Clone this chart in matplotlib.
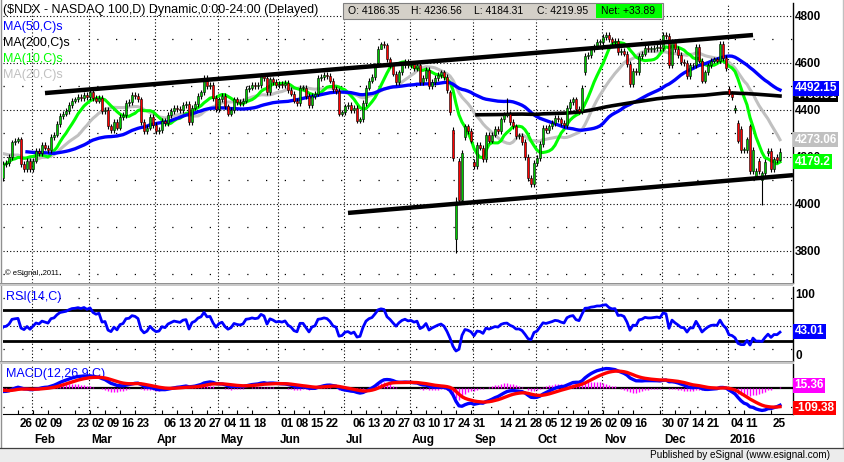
import numpy as np
import pandas as pd
import matplotlib
matplotlib.use("Agg")
import matplotlib.pyplot as plt
from matplotlib.lines import Line2D
from matplotlib.patches import Rectangle
from matplotlib.transforms import blended_transform_factory, ScaledTranslation

plt.rcParams["font.family"] = ["Liberation Sans", "DejaVu Sans"]

W, H = 845, 462

# ---------------- data: daily $NDX closes ----------------
holidays = ["2014-11-27", "2014-12-25", "2015-01-01", "2015-01-19", "2015-02-16",
            "2015-04-03", "2015-05-25", "2015-07-03", "2015-09-07", "2015-11-26",
            "2015-12-25", "2016-01-01", "2016-01-18"]

# closes before the visible window (Nov 17 2014 - Jan 16 2015), only used to warm up the indicators
close_warmup = [4210, 4240, 4225, 4245, 4255, 4290, 4295, 4320, 4330,
                4240, 4265, 4280, 4270, 4270, 4235, 4260, 4190, 4210, 4150,
                4120, 4070, 4150, 4230, 4255, 4275, 4275, 4270, 4290,
                4285, 4260, 4236, 4230, 4160, 4110, 4160, 4240, 4215,
                4180, 4180, 4160, 4110, 4170]
close_2015_01 = [4175, 4200, 4262, 4270, 4275, 4170, 4150, 4185, 4150]
close_2015_02 = [4185, 4225, 4215, 4250, 4240, 4230, 4285, 4295, 4340, 4375,
                 4385, 4395, 4420, 4440, 4445, 4455, 4450, 4465, 4455]
close_2015_03 = [4475, 4450, 4440, 4450, 4395, 4400, 4330, 4315, 4350, 4325, 4370,
                 4380, 4430, 4435, 4465, 4460, 4445, 4350, 4310, 4325, 4370, 4335]
close_2015_04 = [4310, 4315, 4355, 4345, 4380, 4395, 4410, 4405, 4400, 4420, 4425,
                 4350, 4410, 4425, 4460, 4475, 4535, 4500, 4505, 4450, 4405]
close_2015_05 = [4445, 4460, 4415, 4385, 4400, 4445, 4435, 4430, 4440, 4490,
                 4495, 4505, 4500, 4505, 4545, 4535, 4475, 4530, 4520, 4505]
close_2015_06 = [4510, 4505, 4515, 4485, 4470, 4440, 4430, 4495, 4495, 4460, 4420,
                 4460, 4470, 4535, 4540, 4550, 4545, 4525, 4490, 4480, 4385, 4390]
close_2015_07 = [4415, 4420, 4400, 4410, 4355, 4360, 4430, 4495, 4525, 4540, 4590,
                 4660, 4680, 4675, 4615, 4590, 4555, 4520, 4560, 4590, 4605, 4590]
close_2015_08 = [4595, 4580, 4590, 4520, 4535, 4570, 4500, 4520, 4535, 4550, 4560,
                 4540, 4485, 4390, 4196, 3996, 4017, 4217, 4330, 4310, 4270]
close_2015_09 = [4160, 4250, 4240, 4190, 4295, 4270, 4295, 4320, 4310, 4360, 4380,
                 4385, 4350, 4330, 4290, 4290, 4265, 4200, 4110, 4085, 4175]
close_2015_10 = [4195, 4255, 4325, 4315, 4330, 4345, 4365, 4360, 4345, 4335, 4410,
                 4435, 4445, 4405, 4395, 4495, 4630, 4635, 4660, 4670, 4690, 4690]
close_2015_11 = [4710, 4720, 4700, 4690, 4695, 4645, 4650, 4640, 4595, 4510,
                 4565, 4560, 4630, 4640, 4665, 4660, 4660, 4665, 4670, 4665]
close_2015_12 = [4720, 4715, 4590, 4690, 4660, 4635, 4605, 4600, 4545, 4590, 4590,
                 4670, 4610, 4525, 4560, 4590, 4610, 4615, 4610, 4680, 4620, 4580]
close_2016_01 = [4470, 4455, 4410, 4270, 4230, 4230, 4275, 4140, 4230, 4140,
                 4140, 4130, 4180, 4225, 4150, 4190, 4186.06, 4219.95]

# opens that gapped away from the prior close
gap_opens = {"2015-07-17": 4600, "2015-08-20": 4475, "2015-08-21": 4315,
             "2015-08-24": 3850, "2015-08-25": 4185, "2015-08-27": 4285,
             "2015-09-01": 4180, "2015-10-23": 4560, "2016-01-04": 4490,
             "2016-01-06": 4400, "2016-01-07": 4345, "2016-01-08": 4320,
             "2016-01-13": 4330, "2016-01-15": 4120, "2016-01-19": 4185,
             "2016-01-20": 4100, "2016-01-22": 4215, "2016-01-25": 4225,
             "2016-01-27": 4200, "2016-01-28": 4186.35}
# days with a notable high/low
long_wicks = {"2015-07-20": (4690, 4660), "2015-08-24": (4030, 3790),
              "2015-09-17": (4450, 4370), "2016-01-20": (4140, 3995),
              "2016-01-28": (4236.56, 4184.31)}
wick = 12

upper_channel = [("2015-02-06", 4472), ("2016-01-14", 4719)]
lower_channel = [("2015-07-02", 3962), ("2016-01-28", 4118)]

week_ticks = ["2015-01-26", "2015-02-02", "2015-02-09", "2015-02-23", "2015-03-02",
              "2015-03-09", "2015-03-16", "2015-03-23", "2015-04-06", "2015-04-13",
              "2015-04-20", "2015-04-27", "2015-05-04", "2015-05-11", "2015-05-18",
              "2015-06-01", "2015-06-08", "2015-06-15", "2015-06-22", "2015-07-06",
              "2015-07-13", "2015-07-20", "2015-07-27", "2015-08-03", "2015-08-10",
              "2015-08-17", "2015-08-24", "2015-08-31", "2015-09-14", "2015-09-21",
              "2015-09-28", "2015-10-05", "2015-10-12", "2015-10-19", "2015-10-26",
              "2015-11-02", "2015-11-09", "2015-11-16", "2015-11-30", "2015-12-07",
              "2015-12-14", "2015-12-21", "2016-01-04", "2016-01-11", "2016-01-25"]
month_starts = ["2015-02-02", "2015-03-02", "2015-04-01", "2015-05-01", "2015-06-01",
                "2015-07-01", "2015-08-03", "2015-09-01", "2015-10-01", "2015-11-02",
                "2015-12-01", "2016-01-04"]
month_names = ["Feb", "Mar", "Apr", "May", "Jun", "Jul", "Aug", "Sep", "Oct", "Nov",
               "Dec", "2016"]
price_ticks = [3800, 4000, 4200, 4400, 4600, 4800]

# last values shown in the right-hand boxes
ma_boxes = [("4465.91", 4465.91, "black"), ("4492.15", 4492.15, "#0000ff"),
            ("4273.06", 4273.06, "#c0c0c0"), ("4179.2", 4179.2, "#00ff00")]
rsi_box = ("43.01", 43.01)
macd_boxes = [("15.36", 15.36, "#ff00ff"), ("-109.38", -109.38, "#ff0000")]
ohlc = ["O: 4186.35", "H: 4236.56", "L: 4184.31", "C: 4219.95"]
net = "Net: +33.89"

# ---------------- build series ----------------
dates = pd.bdate_range("2014-11-17", "2016-01-28")
dates = dates[~dates.isin(pd.to_datetime(holidays))]
close = np.array(close_warmup + close_2015_01 + close_2015_02 + close_2015_03 +
                 close_2015_04 + close_2015_05 + close_2015_06 + close_2015_07 +
                 close_2015_08 + close_2015_09 + close_2015_10 + close_2015_11 +
                 close_2015_12 + close_2016_01, dtype=float)
assert len(close) == len(dates), (len(close), len(dates))
pos = {d: i for i, d in enumerate(dates)}


def ix(d):
    return pos[pd.Timestamp(d)]


x = np.arange(len(dates))
opn = np.r_[close[0], close[:-1]]
for d, v in gap_opens.items():
    opn[ix(d)] = v
high = np.maximum(opn, close) + wick
low = np.minimum(opn, close) - wick
for d, (h, l) in long_wicks.items():
    high[ix(d)], low[ix(d)] = h, l

s = pd.Series(close)
ma10 = s.rolling(10).mean()
ma20 = s.rolling(20).mean()
ma50 = s.rolling(50).mean()
ma200 = s.rolling(200).mean()

delta = s.diff()
gain = delta.clip(lower=0).ewm(alpha=1 / 14, adjust=False).mean()
loss = (-delta.clip(upper=0)).ewm(alpha=1 / 14, adjust=False).mean()
rsi = 100 - 100 / (1 + gain / loss)

macd = s.ewm(span=12, adjust=False).mean() - s.ewm(span=26, adjust=False).mean()
signal = macd.ewm(span=9, adjust=False).mean()
hist = macd - signal

# ---------------- figure ----------------
fig = plt.figure(figsize=(W / 100, H / 100), dpi=100)
fig.patch.set_facecolor("white")


def px_axes(left, top, right, bottom):
    return fig.add_axes([left / W, 1 - bottom / H, (right - left) / W, (bottom - top) / H])


def ftext(px, py, txt, **kw):
    return fig.text(px / W, 1 - py / H, txt, **kw)


def frect(x0, y0, x1, y1, **kw):
    fig.add_artist(Rectangle((x0 / W, 1 - y1 / H), (x1 - x0) / W, (y1 - y0) / H,
                             transform=fig.transFigure, **kw))


x_first = ix("2015-01-20")
xlim = (x_first - 1.0, x_first + 787 / 3)

ax = px_axes(3, 3, 793, 283)
ax_rsi = px_axes(3, 287, 793, 361)
ax_macd = px_axes(3, 364, 793, 414)

for a in (ax, ax_rsi, ax_macd):
    a.set_xlim(*xlim)
    for sp in ("left", "top", "bottom"):
        a.spines[sp].set_visible(False)
    a.spines["right"].set_color("black")
    a.spines["right"].set_linewidth(1.0)
    a.set_xticks([])
    a.tick_params(axis="y", length=0)
    for d in month_starts:
        a.axvline(ix(d) - 0.3, color="black", lw=0.8, ls=(0, (1, 2)), zorder=0.5)

# ---- main price panel ----
ax.set_ylim(3663.8, 4855.3)
for p in price_ticks:
    ax.axhline(p, color="black", lw=0.8, ls=(0, (1, 2)), zorder=0.5)
for p in range(3700, 4800, 200):
    ax.axhline(p, color="black", lw=0.9, ls=(0, (1, 14)), zorder=0.5)

ax.plot(x, ma20, color="#c0c0c0", lw=2.2, zorder=2)
ax.plot(x, ma10, color="#00ff00", lw=2.2, zorder=2)
ax.plot(x, ma50, color="#0000ff", lw=2.4, zorder=2)
ax.plot(x, ma200, color="black", lw=2.6, zorder=2)

up = close >= opn
ax.vlines(x, low, high, color="black", lw=0.8, zorder=3)
body_h = np.maximum(np.abs(close - opn), 2)
ax.bar(x, body_h, bottom=np.minimum(opn, close), width=0.7,
       color=np.where(up, "#00c800", "#ff0000"), edgecolor="black", linewidth=0.4, zorder=3.1)

for line in (upper_channel, lower_channel):
    xs = [ix(d) for d, _ in line]
    ys = [v for _, v in line]
    if line is lower_channel:
        slope = (ys[1] - ys[0]) / (xs[1] - xs[0])
        xs.append(xlim[1])
        ys.append(ys[1] + slope * (xlim[1] - xs[1]))
    ax.plot(xs, ys, color="black", lw=3.2, solid_capstyle="butt", zorder=4)

ax.yaxis.tick_right()
ax.set_yticks(price_ticks)
ax.set_yticklabels([str(p) for p in price_ticks], fontsize=8.5, fontweight="bold")
ax.tick_params(axis="y", pad=1)

ytrans = blended_transform_factory(ax.transAxes, ax.transData)
for txt, v, col in ma_boxes:
    ax.annotate(txt, xy=(1, v), xycoords=ytrans, xytext=(1.2, 0), textcoords="offset points",
                va="center", ha="left", fontsize=8.5, fontweight="bold", color="white",
                bbox=dict(boxstyle="square,pad=0.12", fc=col, ec="none"), annotation_clip=False,
                zorder=6)

ax.text(0.003, 0.035, "\u00a9 eSignal, 2011", transform=ax.transAxes, fontsize=5.5,
        color="black", va="center", ha="left")

# ---- RSI panel ----
ax_rsi.set_ylim(4.8, 99.7)
ax_rsi.axhline(50, color="black", lw=0.8, ls=(0, (1, 2)), zorder=0.5)
for v in (85, 20):
    ax_rsi.axhline(v, color="black", lw=0.9, ls=(0, (1, 14)), zorder=0.5)
ax_rsi.axhline(70, color="black", lw=2.0, zorder=1)
ax_rsi.axhline(30, color="black", lw=2.0, zorder=1)
ax_rsi.plot(x, rsi, color="#0000ff", lw=2.0, zorder=3)
ax_rsi.set_yticks([])
ax_rsi.text(0.004, 0.87, "RSI(14,C)", transform=ax_rsi.transAxes, color="#0000ff",
            fontsize=9, va="center", ha="left", zorder=0.8)
rtrans = blended_transform_factory(ax_rsi.transAxes, ax_rsi.transData)
ax_rsi.text(1.003, 90, "100", transform=rtrans, fontsize=8.5, fontweight="bold",
            va="center", ha="left", clip_on=False)
ax_rsi.text(1.003, 11.5, "0", transform=rtrans, fontsize=8.5, fontweight="bold",
            va="center", ha="left", clip_on=False)
ax_rsi.annotate(rsi_box[0], xy=(1, rsi_box[1]), xycoords=rtrans, xytext=(1.2, 0),
                textcoords="offset points", va="center", ha="left", fontsize=8.5,
                fontweight="bold", color="white",
                bbox=dict(boxstyle="square,pad=0.12", fc="#0000ff", ec="none"),
                annotation_clip=False, zorder=6)

# ---- MACD panel ----
ax_macd.set_ylim(-142, 131)
ax_macd.spines["bottom"].set_visible(True)
ax_macd.spines["bottom"].set_color("black")
ax_macd.axhline(0, color="black", lw=1.6, zorder=1)
ax_macd.axhline(-104, color="black", lw=0.9, ls=(0, (1, 14)), zorder=0.5)
ax_macd.vlines(x, 0, hist, color="#ff00ff", lw=1.0, zorder=2)
ax_macd.plot(x, macd, color="#0000ff", lw=2.4, zorder=3)
ax_macd.plot(x, signal, color="#ff0000", lw=2.4, zorder=3.1)
ax_macd.set_yticks([])
ax_macd.text(0.004, 0.8, "MACD(12,26,9,C)", transform=ax_macd.transAxes, color="#0000ff",
             fontsize=9, va="center", ha="left", zorder=0.8)
mtrans = blended_transform_factory(ax_macd.transAxes, ax_macd.transData)
for txt, v, col in macd_boxes:
    ax_macd.annotate(txt, xy=(1, v), xycoords=mtrans, xytext=(1.2, 0),
                     textcoords="offset points", va="center", ha="left", fontsize=8.5,
                     fontweight="bold", color="white",
                     bbox=dict(boxstyle="square,pad=0.12", fc=col, ec="none"),
                     annotation_clip=False, zorder=6)

ax_macd.set_xticks([ix(d) for d in week_ticks])
ax_macd.set_xticklabels([pd.Timestamp(d).strftime("%d") for d in week_ticks],
                        fontsize=8.5, fontweight="bold")
ax_macd.tick_params(axis="x", direction="in", length=3, width=0.8, pad=3)
shift = ScaledTranslation(1.0 / 72, 0, fig.dpi_scale_trans)
for lbl in ax_macd.get_xticklabels():
    lbl.set_horizontalalignment("left")
    lbl.set_transform(lbl.get_transform() + shift)

mlab = blended_transform_factory(ax_macd.transData, fig.transFigure)
for d, name in zip(month_starts, month_names):
    ax_macd.text(ix(d) + 0.3, 1 - 440 / H, name, transform=mlab, fontsize=8.5,
                 fontweight="bold", va="center", ha="left", clip_on=False)

# ---- chart furniture ----
ftext(3, 10, "($NDX - NASDAQ 100,D) Dynamic,0:00-24:00 (Delayed)", fontsize=9,
      va="center", ha="left", color="black")
legend = [("MA(50,C)s", "#0000ff"), ("MA(200,C)s", "black"),
          ("MA(10,C)s", "#00ff00"), ("MA(20,C)s", "#c0c0c0")]
for k, (txt, col) in enumerate(legend):
    ftext(3, 27 + 16 * k, txt, fontsize=9, va="center", ha="left", color=col)

frect(343, 3, 663, 19, fc="#d4d0c8", ec="#808080", lw=0.8, zorder=5)
frect(596, 4, 662, 18, fc="#00ff00", ec="none", zorder=5.1)
for k, txt in enumerate(ohlc):
    ftext(348 + 63 * k, 11.5, txt, fontsize=7.5, va="center", ha="left", zorder=6)
ftext(601, 11.5, net, fontsize=7.5, va="center", ha="left", zorder=6)

# panel separators
for ysep in (284, 362):
    frect(0, ysep - 1.5, 793, ysep + 1.5, fc="#c8c8c8", ec="none", zorder=5)
    fig.add_artist(Line2D([0, 793 / W], [1 - (ysep - 1.5) / H] * 2, color="#909090",
                          lw=0.7, transform=fig.transFigure, zorder=5.1))

# outer frame and footer
fig.add_artist(Line2D([1.5 / W] * 2, [1 - 448 / H, 1], color="#909090", lw=1.0,
                      transform=fig.transFigure))
fig.add_artist(Line2D([843 / W] * 2, [1 - 448 / H, 1], color="#c0c0c0", lw=1.0,
                      transform=fig.transFigure))
frect(0, 448, W, H, fc="#ececec", ec="none", zorder=5)
fig.add_artist(Line2D([0, 1], [1 - 448 / H] * 2, color="#404040", lw=0.9,
                      transform=fig.transFigure, zorder=5.1))
ftext(830, 455.5, "Published by eSignal (www.esignal.com)", fontsize=7.2, va="center",
      ha="right", zorder=6)

fig.savefig("out.png", dpi=100)
